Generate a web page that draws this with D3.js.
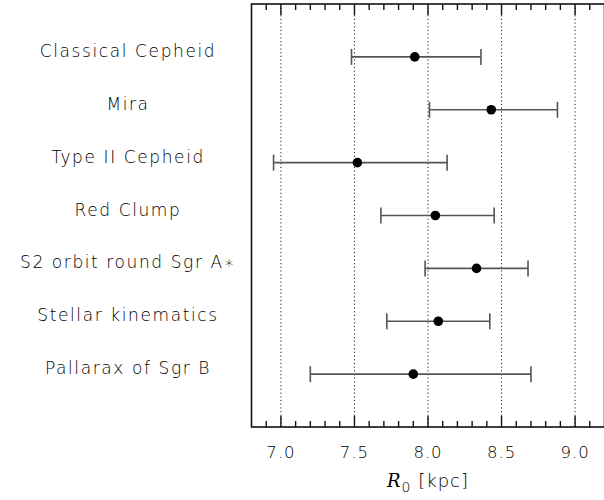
<!DOCTYPE html>
<html>
<head>
<meta charset="utf-8">
<script src="https://cdn.jsdelivr.net/npm/d3@7"></script>
<style>
  body { margin: 0; padding: 0; background: white; }
</style>
</head>
<body>
<div id="chart"></div>
<script>
const width = 604;
const height = 500;

// measurements of R0 (kpc)
const methods = ["Classical Cepheid", "Mira", "Type II Cepheid", "Red Clump",
  "S2 orbit round Sgr A\u2217", "Stellar kinematics", "Pallarax of Sgr B"];
const r0Values = [7.91, 8.43, 7.52, 8.05, 8.33, 8.07, 7.90];
const r0Low = [7.48, 8.01, 6.95, 7.68, 7.98, 7.72, 7.20];
const r0High = [8.36, 8.88, 8.13, 8.45, 8.68, 8.42, 8.70];
const majorTicks = [7.0, 7.5, 8.0, 8.5, 9.0];
const minorTicks = [6.9, 7.1, 7.2, 7.3, 7.4, 7.6, 7.7, 7.8, 7.9, 8.1, 8.2,
  8.3, 8.4, 8.6, 8.7, 8.8, 8.9, 9.1];

const plotLeft = 251.5, plotRight = 604.5;
const labelFont = "'DejaVu Sans', sans-serif";

const x = d3.scaleLinear().domain([6.8, 9.2]).range([plotLeft, plotRight]);
// rows sit at 1..7, frame runs from 0 to 8
const y = d3.scaleLinear().domain([0, methods.length + 1]).range([4, 427]);

const svg = d3.select("#chart")
  .append("svg")
  .attr("width", width)
  .attr("height", height)
  .style("font-family", labelFont);

const data = methods.map((m, i) => ({
  name: m, value: r0Values[i], lo: r0Low[i], hi: r0High[i], row: i + 1
}));

// dotted grid lines at the major ticks
svg.selectAll(".grid")
  .data(majorTicks)
  .enter()
  .append("line")
  .attr("class", "grid")
  .attr("x1", d => x(d))
  .attr("x2", d => x(d))
  .attr("y1", y(0))
  .attr("y2", y(8))
  .style("stroke", "#222")
  .style("stroke-width", 1)
  .style("stroke-dasharray", "1.2,2.5");

// frame
svg.append("rect")
  .attr("x", plotLeft)
  .attr("y", y(0))
  .attr("width", plotRight - plotLeft)
  .attr("height", y(8) - y(0))
  .style("fill", "none")
  .style("stroke", "#111")
  .style("stroke-width", 1.6);

// value labels under the frame
svg.selectAll(".xlab")
  .data(majorTicks)
  .enter()
  .append("text")
  .attr("class", "xlab")
  .attr("x", d => x(d))
  .attr("y", 458)
  .attr("text-anchor", "middle")
  .style("font-size", "16.5px")
  .style("letter-spacing", "1px")
  .style("font-weight", 300)
  .style("fill", "#000")
  .text(d => d3.format(".1f")(d));

// error bars
svg.selectAll(".err")
  .data(data)
  .enter()
  .append("line")
  .attr("class", "err")
  .attr("x1", d => x(d.lo))
  .attr("x2", d => x(d.hi))
  .attr("y1", d => y(d.row))
  .attr("y2", d => y(d.row))
  .style("stroke", "#555")
  .style("stroke-width", 1.6);

const caps = [];
data.forEach(d => { caps.push({ v: d.lo, row: d.row }); caps.push({ v: d.hi, row: d.row }); });
svg.selectAll(".cap")
  .data(caps)
  .enter()
  .append("line")
  .attr("class", "cap")
  .attr("x1", d => x(d.v))
  .attr("x2", d => x(d.v))
  .attr("y1", d => y(d.row) - 8)
  .attr("y2", d => y(d.row) + 8)
  .style("stroke", "#555")
  .style("stroke-width", 1.6);

svg.selectAll(".pt")
  .data(data)
  .enter()
  .append("circle")
  .attr("class", "pt")
  .attr("cx", d => x(d.value))
  .attr("cy", d => y(d.row))
  .attr("r", 4.8)
  .style("fill", "black");

// inward marks on the top and bottom edges
const edgeMarks = [];
majorTicks.forEach(v => {
  edgeMarks.push({ v: v, y0: y(8), y1: y(8) - 11 });
  edgeMarks.push({ v: v, y0: y(0), y1: y(0) + 11 });
});
minorTicks.forEach(v => {
  edgeMarks.push({ v: v, y0: y(8), y1: y(8) - 6 });
  edgeMarks.push({ v: v, y0: y(0), y1: y(0) + 6 });
});
svg.selectAll(".mk")
  .data(edgeMarks)
  .enter()
  .append("line")
  .attr("class", "mk")
  .attr("x1", d => x(d.v))
  .attr("x2", d => x(d.v))
  .attr("y1", d => d.y0)
  .attr("y2", d => d.y1)
  .style("stroke", "#111")
  .style("stroke-width", 1.4);

// method labels
svg.selectAll(".label")
  .data(data)
  .enter()
  .append("text")
  .attr("class", "label")
  .attr("x", 128)
  .attr("y", d => y(d.row))
  .attr("text-anchor", "middle")
  .style("font-size", "17px")
  .style("letter-spacing", "1.6px")
  .style("font-weight", 300)
  .style("fill", "#000")
  .text(d => d.name);

// axis title
const title = svg.append("text")
  .attr("x", x(8.0))
  .attr("y", 487)
  .attr("text-anchor", "middle")
  .style("font-size", "18px")
  .style("letter-spacing", "1px")
  .style("font-weight", 300)
  .style("fill", "#000");
title.append("tspan").text("R").style("font-style", "italic").style("font-family", "'DejaVu Serif', serif");
title.append("tspan").text("0").attr("dy", 5).style("font-size", "14px");
title.append("tspan").text(" [kpc]").attr("dy", -5);
</script>
</body>
</html>
